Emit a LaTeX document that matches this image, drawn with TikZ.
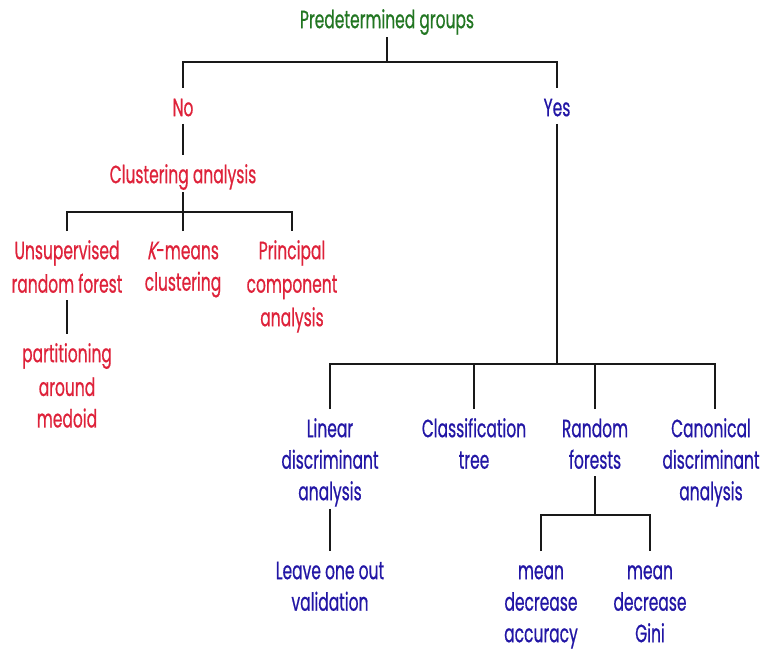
\documentclass[tikz,border=0pt]{standalone}
\usepackage{fontspec}
\setmainfont{Poppins}[FakeStretch=0.62,FakeBold=0.6]
\newfontface\slk{Poppins}[FakeStretch=0.62,FakeBold=0.6,FakeSlant=0.2]
\definecolor{tgreen}{RGB}{34,118,34}
\definecolor{tred}{RGB}{222,34,58}
\definecolor{tblue}{RGB}{34,22,165}
\definecolor{tline}{RGB}{25,25,25}
\newcommand{\ls}{\rule{0pt}{26pt}\rule[-5.5pt]{0pt}{5.5pt}}
\begin{document}
\begin{tikzpicture}[x=1pt,y=-1pt,
  lbl/.style={align=center,anchor=north,inner xsep=2pt,inner ysep=2pt,font=\fontsize{25}{31.5}\selectfont},
  gr/.style={lbl,text=tgreen},
  rd/.style={lbl,text=tred},
  bl/.style={lbl,text=tblue},
  conn/.style={draw=tline,line width=2.4pt}]
\useasboundingbox (0,0) rectangle (760,650);
\node[gr] (root) at (387,0) {\ls Predetermined groups};
\node[rd] (no) at (183,88) {\ls No};
\node[bl] (yes) at (557,88) {\ls Yes};
\node[rd] (clus) at (183,155) {\ls Clustering analysis};
\node[rd] (unsup) at (67,231) {\ls Unsupervised\\\ls random forest};
\node[rd] (kmeans) at (183,231) {\ls{\slk K}-means\\\ls clustering};
\node[rd] (pca) at (292,231) {\ls Principal\\\ls component\\\ls analysis};
\node[rd] (pam) at (67,334) {\ls partitioning\\\ls around\\\ls medoid};
\node[bl] (lda) at (330,409) {\ls Linear\\\ls discriminant\\\ls analysis};
\node[bl] (ctree) at (474,409) {\ls Classification\\\ls tree};
\node[bl] (rf) at (595,409) {\ls Random\\\ls forests};
\node[bl] (cda) at (711,409) {\ls Canonical\\\ls discriminant\\\ls analysis};
\node[bl] (loo) at (330,551) {\ls Leave one out\\\ls validation};
\node[bl] (mda) at (541,551) {\ls mean\\\ls decrease\\\ls accuracy};
\node[bl] (mdg) at (650,551) {\ls mean\\\ls decrease\\\ls Gini};
% bar levels
\coordinate (bar1) at ([yshift=26pt]no.north);
\coordinate (bar3) at ([yshift=19pt]unsup.north);
\coordinate (bar2) at ([yshift=45pt]lda.north);
\coordinate (bar4) at ([yshift=36pt]mda.north);
% top level
\draw[conn] (root.south) -- (root.south |- bar1);
\draw[conn] (no.north) -- (no.north |- bar1) -| (yes.north);
% No branch
\draw[conn] (no.south) -- (clus.north);
\draw[conn] (clus.south) -- (clus.south |- bar3);
\draw[conn] (unsup.north) -- (unsup.north |- bar3) -| (pca.north);
\draw[conn] (kmeans.north) -- (kmeans.north |- bar3);
\draw[conn] (unsup.south) -- (pam.north);
% Yes branch
\draw[conn] (yes.south) -- (yes.south |- bar2);
\draw[conn] (lda.north) -- (lda.north |- bar2) -| ([xshift=4pt]cda.north);
\draw[conn] (ctree.north) -- (ctree.north |- bar2);
\draw[conn] (rf.north) -- (rf.north |- bar2);
\draw[conn] (lda.south) -- (loo.north);
% Random forests
\draw[conn] (rf.south) -- (rf.south |- bar4);
\draw[conn] (mda.north) -- (mda.north |- bar4) -| (mdg.north);
\end{tikzpicture}
\end{document}
